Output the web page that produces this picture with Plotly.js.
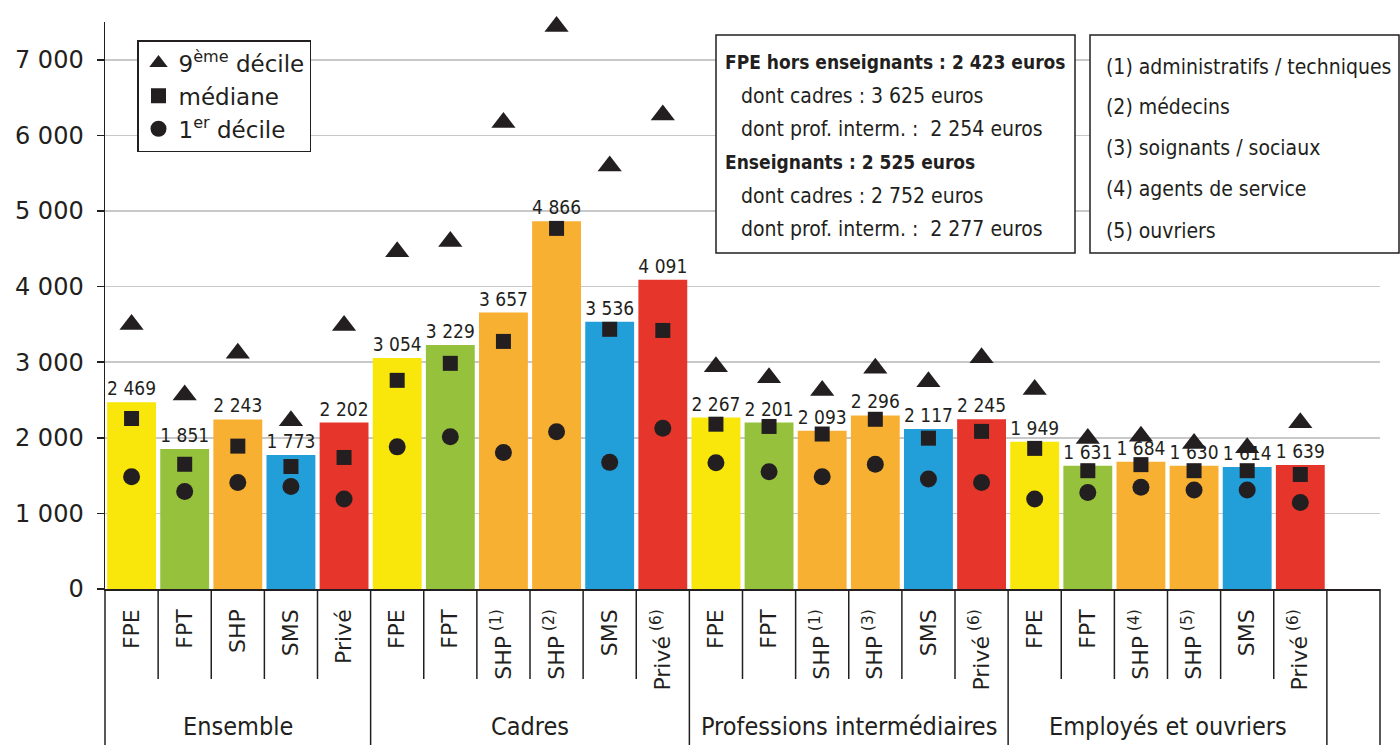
<!DOCTYPE html>
<html>
<head>
<meta charset="utf-8">
<script src="https://cdn.plot.ly/plotly-3.0.1.min.js"></script>
<style>
  html, body { margin: 0; padding: 0; background: #ffffff; }
  #chart { width: 1400px; height: 745px; }
</style>
</head>
<body>
<div id="chart"></div>
<script>
// ---------------- DATA ----------------
const groups = ['Ensemble', 'Cadres', 'Professions intermédiaires', 'Employés et ouvriers'];
const groupSizes = [5, 6, 6, 6];

const sectors = ['FPE', 'FPT', 'SHP', 'SMS', 'Privé',
                 'FPE', 'FPT', 'SHP', 'SHP', 'SMS', 'Privé',
                 'FPE', 'FPT', 'SHP', 'SHP', 'SMS', 'Privé',
                 'FPE', 'FPT', 'SHP', 'SHP', 'SMS', 'Privé'];
const notes = ['', '', '', '', '',
               '', '', '(1)', '(2)', '', '(6)',
               '', '', '(1)', '(3)', '', '(6)',
               '', '', '(4)', '(5)', '', '(6)'];

// mean monthly net salary (bars)
const meanSalary = [2469, 1851, 2243, 1773, 2202,
                    3054, 3229, 3657, 4866, 3536, 4091,
                    2267, 2201, 2093, 2296, 2117, 2245,
                    1949, 1631, 1684, 1630, 1614, 1639];
// 9th decile (triangles)
const decile9 = [3500, 2565, 3120, 2225, 3485,
                 4460, 4595, 6170, 7440, 5595, 6270,
                 2940, 2795, 2625, 2920, 2740, 3060,
                 2640, 1990, 2020, 1925, 1870, 2200];
// median (squares)
const median = [2255, 1650, 1890, 1620, 1740,
                2760, 2985, 3275, 4770, 3435, 3420,
                2180, 2150, 2050, 2245, 1995, 2085,
                1860, 1565, 1645, 1565, 1565, 1515];
// 1st decile (circles)
const decile1 = [1485, 1290, 1410, 1355, 1190,
                 1880, 2015, 1805, 2080, 1675, 2125,
                 1670, 1550, 1485, 1650, 1455, 1410,
                 1190, 1275, 1345, 1310, 1310, 1145];

const legendNames = ['9<sup>ème</sup> décile', 'médiane', '1<sup>er</sup> décile'];
const yTickValues = [0, 1000, 2000, 3000, 4000, 5000, 6000, 7000];

const summaryLines = ['FPE hors enseignants : 2 423 euros',
                      'dont cadres : 3 625 euros',
                      'dont prof. interm. :\u00a0 2 254 euros',
                      'Enseignants : 2 525 euros',
                      'dont cadres : 2 752 euros',
                      'dont prof. interm. :\u00a0 2 277 euros'];
const summaryBold = [true, false, false, true, false, false];

const footnoteLines = ['(1) administratifs / techniques',
                       '(2) médecins',
                       '(3) soignants / sociaux',
                       '(4) agents de service',
                       '(5) ouvriers'];

// ---------------- STYLE ----------------
const sectorColors = { 'FPE': '#F9E60A', 'FPT': '#95C13C', 'SHP': '#F7B032', 'SMS': '#229ED9', 'Privé': '#E6362B' };
const ink = '#231F20';
const condensed = 'DejaVu Sans Condensed, sans-serif';
const regular = 'DejaVu Sans, sans-serif';

const W = 1400, H = 745;
const M = { l: 105, r: 20, t: 22, b: 156 };
const plotW = W - M.l - M.r, plotH = H - M.t - M.b;
const PX = x => (x - M.l) / plotW;      // pixel -> paper x
const PY = y => (H - M.b - y) / plotH;  // pixel -> paper y

// ---------------- BUILD ----------------
const groupOf = [];
groupSizes.forEach((n, g) => { for (let k = 0; k < n; k++) groupOf.push(g); });
const xKeys = sectors.map((s, i) => groups[groupOf[i]] + '|' + s + notes[i]);
const tickText = sectors.map((s, i) => notes[i] ? s + '<sup>\u00a0' + notes[i] + '</sup>' : s);
const nSlots = xKeys.length + 1; // one empty column at the end

const traces = [
  {
    type: 'bar', x: xKeys, y: meanSalary, showlegend: false,
    marker: { color: sectors.map(s => sectorColors[s]), line: { width: 0 } },
    texttemplate: '%{y:,d}', textposition: 'outside', constraintext: 'none',
    textfont: { family: condensed, size: 19, color: ink },
    cliponaxis: false, hoverinfo: 'skip'
  },
  {
    type: 'scatter', mode: 'markers', x: xKeys, y: decile9, name: legendNames[0],
    marker: { symbol: 'triangle-up', size: 21, color: ink }, cliponaxis: false
  },
  {
    type: 'scatter', mode: 'markers', x: xKeys, y: median, name: legendNames[1],
    marker: { symbol: 'square', size: 15, color: ink }, cliponaxis: false
  },
  {
    type: 'scatter', mode: 'markers', x: xKeys, y: decile1, name: legendNames[2],
    marker: { symbol: 'circle', size: 17, color: ink }, cliponaxis: false
  }
];

// separators below the axis
const shapes = [];
const groupBounds = [0];
groupSizes.forEach(n => groupBounds.push(groupBounds[groupBounds.length - 1] + n));
for (let k = 0; k <= nSlots; k++) {
  const long = groupBounds.includes(k) || k === nSlots;
  shapes.push({
    type: 'line', xref: 'paper', yref: 'paper',
    x0: k / nSlots, x1: k / nSlots, y0: 0, y1: long ? PY(H) : PY(679),
    line: { color: ink, width: 1.5 }
  });
}
// text boxes
shapes.push({ type: 'rect', xref: 'paper', yref: 'paper', x0: PX(716), x1: PX(1075), y0: PY(253), y1: PY(35),
  line: { color: ink, width: 1.5 }, fillcolor: '#ffffff', layer: 'above' });
shapes.push({ type: 'rect', xref: 'paper', yref: 'paper', x0: PX(1090), x1: PX(1399), y0: PY(253), y1: PY(35),
  line: { color: ink, width: 1.5 }, fillcolor: '#ffffff', layer: 'above' });

const annotations = [];
groups.forEach((g, gi) => {
  const center = (groupBounds[gi] + groupBounds[gi + 1]) / 2;
  annotations.push({
    text: g, xref: 'paper', yref: 'paper', x: center / nSlots, y: PY(727),
    xanchor: 'center', yanchor: 'middle', showarrow: false,
    font: { family: condensed, size: 25, color: ink }
  });
});
const summaryY = [62, 96, 129, 162, 196, 229];
summaryLines.forEach((t, i) => {
  annotations.push({
    text: summaryBold[i] ? '<b>' + t + '</b>' : t,
    xref: 'paper', yref: 'paper', x: PX(summaryBold[i] ? 723 : 739), y: PY(summaryY[i]),
    xanchor: 'left', yanchor: 'middle', showarrow: false,
    font: { family: condensed, size: summaryBold[i] ? 19 : 21, color: ink }
  });
});
const footY = [67, 107, 148, 189, 231];
footnoteLines.forEach((t, i) => {
  annotations.push({
    text: t, xref: 'paper', yref: 'paper', x: PX(1104), y: PY(footY[i]),
    xanchor: 'left', yanchor: 'middle', showarrow: false,
    font: { family: condensed, size: 21, color: ink }
  });
});

const layout = {
  width: W, height: H,
  margin: { l: M.l, r: M.r, t: M.t, b: M.b, pad: 0 },
  paper_bgcolor: '#ffffff', plot_bgcolor: '#ffffff',
  separators: ', ',
  bargap: 0.08,
  showlegend: true,
  legend: {
    x: PX(137), y: PY(40), xanchor: 'left', yanchor: 'top',
    bgcolor: '#ffffff', bordercolor: ink, borderwidth: 1.5,
    font: { family: regular, size: 23, color: ink },
    traceorder: 'normal', tracegroupgap: 0
  },
  xaxis: {
    type: 'category', categoryorder: 'array', categoryarray: xKeys,
    range: [-0.5, nSlots - 0.5],
    tickmode: 'array', tickvals: xKeys, ticktext: tickText,
    tickangle: -90, ticks: '', ticklabelstandoff: 10,
    tickfont: { family: regular, size: 22, color: ink },
    showline: true, linecolor: ink, linewidth: 1.5,
    showgrid: false, zeroline: false, fixedrange: true
  },
  yaxis: {
    range: [0, 7500], tickmode: 'array', tickvals: yTickValues,
    tickformat: ',d', separatethousands: true,
    ticks: 'outside', ticklen: 7, tickwidth: 1.5, tickcolor: ink,
    ticklabelstandoff: 8,
    tickfont: { family: regular, size: 24, color: ink },
    showline: true, linecolor: ink, linewidth: 1.5,
    showgrid: true, gridcolor: '#C8C8C8', gridwidth: 1.5,
    zeroline: false, fixedrange: true
  },
  shapes: shapes,
  annotations: annotations
};

Plotly.newPlot('chart', traces, layout, { displayModeBar: false, staticPlot: true });
</script>
</body>
</html>
